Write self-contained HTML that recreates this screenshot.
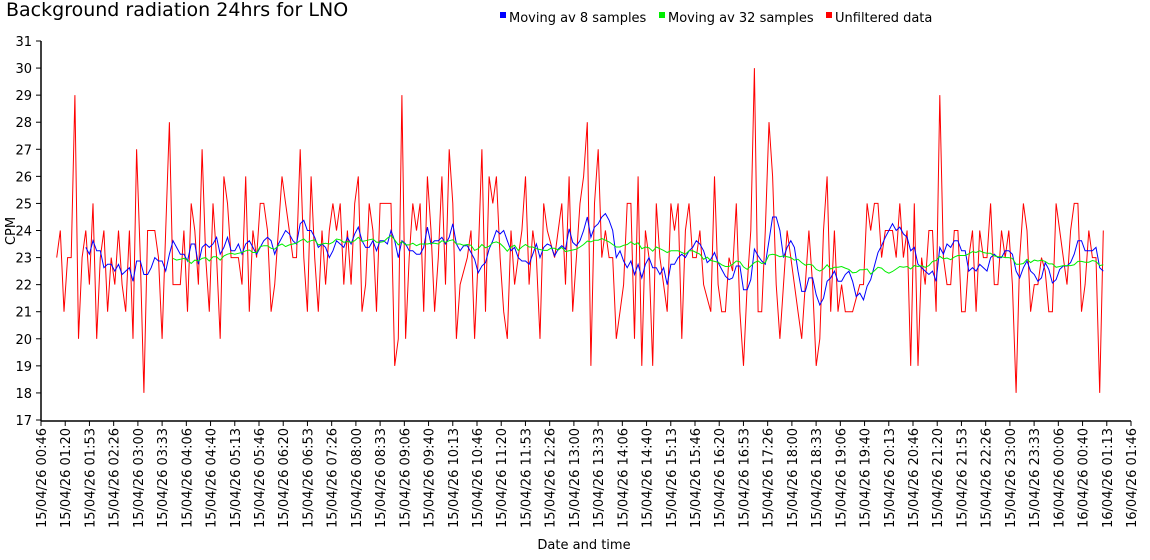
<!DOCTYPE html>
<html><head><meta charset="utf-8"><style>
body{margin:0;background:#fff;}
svg{display:block;font-family:"DejaVu Sans","Liberation Sans",sans-serif;}
</style></head><body>
<svg id="s" width="1150" height="560" xmlns="http://www.w3.org/2000/svg">
<text x="6" y="16" font-size="19" fill="#000">Background radiation 24hrs for LNO</text>
<rect x="500" y="12" width="6" height="6" fill="#0000ff"/><text x="509" y="22" font-size="13">Moving av 8 samples</text>
<rect x="659" y="12" width="6" height="6" fill="#00ee00"/><text x="668" y="22" font-size="13">Moving av 32 samples</text>
<rect x="826" y="12" width="6" height="6" fill="#ff0000"/><text x="835" y="22" font-size="13">Unfiltered data</text>
<text transform="translate(15,231) rotate(-90)" font-size="13" text-anchor="middle">CPM</text>
<text x="584" y="549" font-size="13" text-anchor="middle">Date and time</text>
<g id="ax"></g>
<g id="d"></g>
</svg>
<script>
var r=[23,24,21,23,23,29,20,23,24,22,25,20,23,24,21,23,22,24,22,21,24,20,27,23,18,24,24,24,23,20,24,28,22,22,22,24,21,25,24,22,27,23,21,25,23,20,26,25,23,23,23,22,26,21,24,23,25,25,24,21,22,24,26,25,24,23,23,27,23,21,26,23,21,
24,22,24,25,24,25,22,24,22,25,26,21,22,25,24,21,25,25,25,25,19,20,29,20,23,25,24,25,21,26,24,21,23,26,22,27,25,20,22,22.5,23,24,20,23,27,21,26,25,26,23,21,20,24,22,23,24,26,22,24,23,20,25,24,23.5,23,24,25,22,26,21,23,25,26,28,19,25,27,
23,24,23,23,20,21,22,25,25,20,26,19,24,23,19,25,23,22,21,25,24,25,20,24,25,23,23,24,22,21.5,21,26,22,21,21,23,22.5,25,21,19,22,24,30,21,21,24,28,26,22,20,22,24,23,22,21,20,22,24,22,19,20,24,26,21,24,21,22,21,21,21,21.5,22,22,25,24,25,25,
23,24,24,24,23,25,23,24,19,25,19,23,22,24,24,21,29,23,22,22,24,24,21,21,23,24,21,24,23,23,25,22,22,24,23,24,22,18,23,25,24,21,22,22,23,22.5,21,21,25,24,23,22,24,25,25,21,22,24,23,23,18,24];
var NS="http://www.w3.org/2000/svg";
function el(t,a,p,txt){var e=document.createElementNS(NS,t);for(var k in a)e.setAttribute(k,a[k]);if(txt)e.textContent=txt;(p||document.getElementById('d')).appendChild(e);return e;}
var ax=document.getElementById('ax');
function Y(v){return 41+(31-v)*(379/14);}
el('line',{x1:41,y1:41,x2:41,y2:421,stroke:'#000','stroke-width':1.5},ax);
el('line',{x1:41,y1:421,x2:1131,y2:421,stroke:'#000','stroke-width':1.5},ax);
for(var v=17;v<=31;v++){var y=Y(v);el('line',{x1:36,y1:y,x2:41,y2:y,stroke:'#000'},ax);el('text',{x:32,y:y+5,'font-size':13,'text-anchor':'end'},ax,''+v);}
var labs=["15/04/26 00:46","15/04/26 01:20","15/04/26 01:53","15/04/26 02:26","15/04/26 03:00","15/04/26 03:33","15/04/26 04:06","15/04/26 04:40","15/04/26 05:13","15/04/26 05:46","15/04/26 06:20","15/04/26 06:53","15/04/26 07:26","15/04/26 08:00","15/04/26 08:33","15/04/26 09:06","15/04/26 09:40","15/04/26 10:13","15/04/26 10:46","15/04/26 11:20","15/04/26 11:53","15/04/26 12:26","15/04/26 13:00","15/04/26 13:33","15/04/26 14:06","15/04/26 14:40","15/04/26 15:13","15/04/26 15:46","15/04/26 16:20","15/04/26 16:53","15/04/26 17:26","15/04/26 18:00","15/04/26 18:33","15/04/26 19:06","15/04/26 19:40","15/04/26 20:13","15/04/26 20:46","15/04/26 21:20","15/04/26 21:53","15/04/26 22:26","15/04/26 23:00","15/04/26 23:33","16/04/26 00:06","16/04/26 00:40","16/04/26 01:13","16/04/26 01:46"];
for(var i=0;i<labs.length;i++){var x=41+i*1090/45;el('line',{x1:x,y1:421,x2:x,y2:426,stroke:'#000'},ax);
el('text',{transform:'translate('+(x+5)+',428) rotate(-90)','font-size':13,'text-anchor':'end'},ax,labs[i]);}
var n=r.length,x0=56.7,st=(1103.3-56.7)/(n-1);
function X(i){return x0+i*st;}
function ma(w){var p=[];for(var i=w;i<n;i++){var s=0;for(var j=i-w+1;j<=i;j++)s+=r[j];p.push(X(i).toFixed(1)+','+Y(s/w).toFixed(1));}return p.join(' ');}
var pr=[];for(var i=0;i<n;i++)pr.push(X(i).toFixed(1)+','+Y(r[i]).toFixed(1));
el('polyline',{points:pr.join(' '),fill:'none',stroke:'#ff0000','stroke-width':1});
el('polyline',{points:ma(8),fill:'none',stroke:'#0000ff','stroke-width':1});
el('polyline',{points:ma(32),fill:'none',stroke:'#00ee00','stroke-width':1});
</script>
</body></html>
